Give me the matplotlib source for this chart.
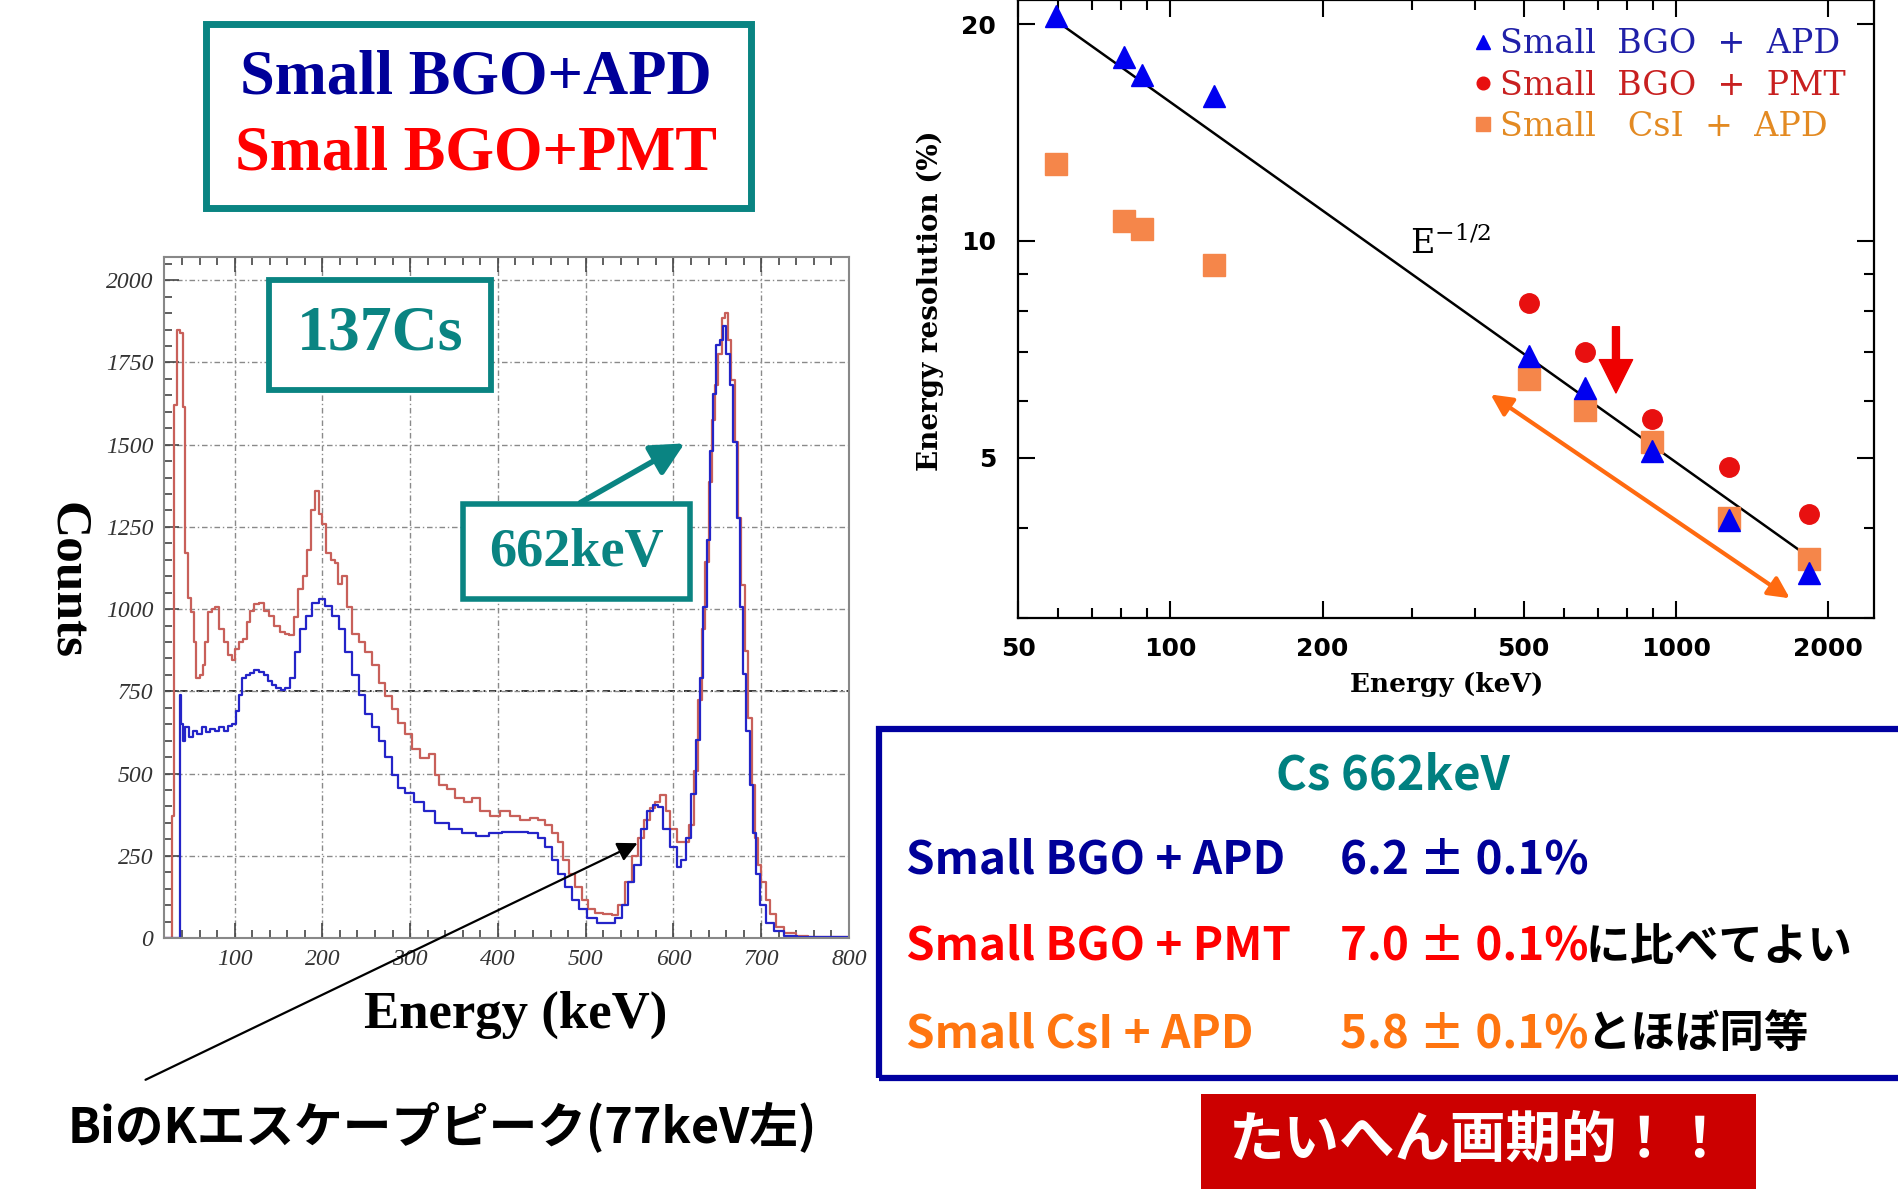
import matplotlib
matplotlib.use("Agg")
import matplotlib.pyplot as plt
from matplotlib.patches import Rectangle, FancyArrowPatch
from matplotlib.ticker import MultipleLocator, LogLocator, NullFormatter

W, H = 1899, 1192
plt.rcParams['font.family'] = ['DejaVu Sans']
plt.rcParams['mathtext.fontset'] = 'dejavuserif'

# 137Cs spectrum, Small BGO + PMT (red)
pmt_kev = [20, 28, 30, 32, 36, 40, 43, 45, 48, 52, 55, 58, 62, 65, 68, 72, 76, 80, 85, 90,
           95, 98, 102, 107, 112, 116, 120, 125, 130, 136, 142, 148, 155, 160, 165, 170, 175, 180, 185, 190,
           194, 198, 202, 207, 212, 216, 220, 225, 230, 238, 245, 253, 260, 268, 275, 283, 290, 298, 306, 317,
           327, 330, 336, 348, 355, 367, 374, 386, 397, 408, 420, 431, 442, 450, 458, 465, 471, 477, 484, 492,
           499, 507, 514, 526, 533, 541, 549, 556, 564, 570, 576, 581, 589, 593, 600, 608, 615, 621, 626, 630,
           634, 638, 642, 645, 649, 653, 657, 660, 664, 668, 672, 676, 679, 683, 687, 691, 694, 698, 702, 708,
           713, 721, 732, 747, 760, 780, 800]
pmt_counts = [0, 0, 370, 1620, 1850, 1840, 1615, 1170, 1035, 990, 900, 790, 800, 830, 900, 990, 1000, 1005, 940, 900,
              860, 845, 880, 900, 910, 960, 995, 1015, 1020, 995, 980, 950, 930, 925, 920, 975, 1060, 1100, 1180, 1300,
              1360, 1290, 1260, 1170, 1150, 1140, 1075, 1100, 1005, 925, 900, 870, 830, 775, 735, 695, 655, 620, 574, 547,
              560, 495, 466, 453, 426, 412, 426, 385, 372, 385, 372, 358, 365, 358, 345, 318, 291, 236, 196, 155,
              115, 88, 76, 74, 70, 101, 169, 250, 304, 360, 395, 412, 435, 385, 331, 291, 291, 345, 507, 723,
              939, 1142, 1385, 1574, 1682, 1777, 1885, 1900, 1818, 1696, 1507, 1277, 1074, 872, 669, 466, 304, 223, 169, 115,
              74, 34, 14, 7, 4, 3, 3]

# 137Cs spectrum, Small BGO + APD (blue)
apd_kev = [20, 37, 38, 40, 42, 45, 50, 55, 60, 65, 70, 75, 80, 85, 90, 95, 100, 103, 106, 110,
           115, 120, 125, 130, 136, 140, 145, 150, 155, 160, 166, 172, 178, 185, 192, 200, 207, 215, 222, 230,
           238, 245, 253, 260, 268, 275, 283, 290, 298, 310, 321, 336, 352, 367, 382, 397, 412, 427, 442, 450,
           458, 465, 473, 480, 488, 496, 507, 518, 530, 537, 545, 552, 559, 566, 574, 579, 585, 592, 600, 607,
           611, 617, 623, 628, 632, 636, 640, 643, 647, 651, 655, 658, 662, 666, 670, 674, 677, 681, 685, 689,
           692, 696, 702, 709, 721, 732, 750, 800]
apd_counts = [0, 0, 740, 650, 600, 640, 610, 630, 620, 640, 625, 635, 630, 640, 630, 645, 650, 690, 740, 790,
              800, 805, 815, 810, 800, 780, 770, 760, 755, 760, 790, 870, 940, 980, 1020, 1030, 1010, 980, 940, 870,
              800, 740, 680, 640, 600, 550, 495, 455, 440, 412, 385, 351, 331, 318, 311, 318, 322, 322, 318, 304,
              277, 236, 196, 155, 115, 88, 61, 47, 47, 61, 101, 169, 223, 331, 385, 405, 398, 331, 277, 216,
              236, 304, 439, 601, 790, 1007, 1209, 1480, 1655, 1804, 1818, 1860, 1777, 1682, 1507, 1277, 1007, 804, 628, 466,
              318, 196, 101, 47, 20, 7, 3, 2]

# energy resolution (%) vs energy (keV)
apd_e = [59.5, 81, 88, 122, 511, 662, 898, 1275, 1836]
apd_res = [20.5, 18.0, 17.0, 15.9, 6.93, 6.24, 5.11, 4.10, 3.46]
pmt_e = [511, 662, 898, 1275, 1836]
pmt_res = [8.2, 7.0, 5.66, 4.85, 4.17]
csi_e = [59.5, 81, 88, 122, 511, 662, 898, 1275, 1836]
csi_res = [12.8, 10.66, 10.4, 9.26, 6.43, 5.82, 5.26, 4.12, 3.62]
fit_e = [59.5, 1755]
fit_res = [20.2, 3.72]

legend_labels = ["Small  BGO  +  APD", "Small  BGO  +  PMT", "Small   CsI  +  APD"]

TEAL = '#0a8482'
NAVY = '#000099'
JP = ['Noto Sans CJK JP', 'DejaVu Sans']


def fx(px):
    return px / W


def fy(py):
    return 1 - py / H


fig = plt.figure(figsize=(W / 100, H / 100), dpi=100)
fig.patch.set_facecolor('white')

# ---------------- left: spectrum ----------------
ax1 = fig.add_axes([fx(164.4), fy(938), (849 - 164.4) / W, (938 - 256.5) / H])
ax1.step(pmt_kev, pmt_counts, where='mid', color='#c8605a', lw=1.6)
ax1.step(apd_kev, apd_counts, where='mid', color='#2424c8', lw=1.6)
ax1.set_xlim(20, 800)
ax1.set_ylim(0, 2072)
ax1.xaxis.set_major_locator(MultipleLocator(100))
ax1.xaxis.set_minor_locator(MultipleLocator(20))
ax1.yaxis.set_major_locator(MultipleLocator(250))
ax1.yaxis.set_minor_locator(MultipleLocator(50))
ax1.grid(True, which='major', ls=(0, (4, 2, 1, 2)), color='#8a8a8a', lw=1.0)
ax1.axhline(750, ls=(0, (4, 2, 1, 2)), color='#222222', lw=1.3, zorder=0.8)
ax1.tick_params(which='both', direction='in', top=True, colors='#444444',
                labelcolor='#333333', width=1.2)
ax1.tick_params(which='major', length=11, pad=8)
ax1.tick_params(which='minor', length=6)
for lab in ax1.get_xticklabels() + ax1.get_yticklabels():
    lab.set_fontfamily('Liberation Serif')
    lab.set_fontstyle('italic')
    lab.set_fontsize(17)
for s in ax1.spines.values():
    s.set_color('#888888')
    s.set_linewidth(1.5)

fig.text(fx(67), fy(581), 'Counts', rotation=-90, ha='center', va='center',
         fontfamily='Liberation Serif', fontweight='bold', fontsize=37)
fig.text(fx(516), fy(1015), 'Energy (keV)', ha='center', va='center',
         fontfamily='Liberation Serif', fontweight='bold', fontsize=38)

# boxes on the spectrum
fig.add_artist(Rectangle((fx(269), fy(390)), (491 - 269) / W, (390 - 280) / H,
                         transform=fig.transFigure, facecolor='white', edgecolor=TEAL, lw=4.2))
fig.text(fx(380), fy(335), '137Cs', ha='center', va='center', color=TEAL,
         fontfamily='Liberation Serif', fontweight='bold', fontsize=46)
fig.add_artist(Rectangle((fx(463), fy(599)), (690 - 463) / W, (599 - 504) / H,
                         transform=fig.transFigure, facecolor='white', edgecolor=TEAL, lw=4.0))
fig.text(fx(576), fy(553), '662keV', ha='center', va='center', color=TEAL,
         fontfamily='Liberation Serif', fontweight='bold', fontsize=39)
fig.add_artist(FancyArrowPatch((fx(578), fy(504)), (fx(687), fy(442)), transform=fig.transFigure,
                               arrowstyle='-|>', mutation_scale=50, lw=4, color=TEAL))

# Bi K escape annotation
fig.add_artist(FancyArrowPatch((fx(143), fy(1081)), (fx(640), fy(842)), transform=fig.transFigure,
                               arrowstyle='-|>', mutation_scale=30, lw=1.6, color='black'))
fig.text(fx(442), fy(1128), 'BiのKエスケープピーク(77keV左)', ha='center', va='center',
         family=JP, fontweight='bold', fontsize=35)

# top-left legend box
fig.add_artist(Rectangle((fx(206), fy(208)), (751 - 206) / W, (208 - 24) / H,
                         transform=fig.transFigure, facecolor='white', edgecolor=TEAL, lw=5))
fig.text(fx(476), fy(79), 'Small BGO+APD', ha='center', va='center', color=NAVY,
         fontfamily='Liberation Serif', fontweight='bold', fontsize=45)
fig.text(fx(476), fy(155), 'Small BGO+PMT', ha='center', va='center', color='#ff0000',
         fontfamily='Liberation Serif', fontweight='bold', fontsize=45)

# ---------------- right: resolution ----------------
ax2 = fig.add_axes([fx(1018.2), fy(617.5), (1874 - 1018.2) / W, 617.5 / H])
ax2.set_xscale('log')
ax2.set_yscale('log')
ax2.plot(fit_e, fit_res, color='black', lw=1.8, zorder=2)
h1, = ax2.plot(apd_e, apd_res, ls='none', marker='^', ms=16, color='#0000f0', zorder=4)
h2, = ax2.plot(pmt_e, pmt_res, ls='none', marker='o', ms=14, color='#e81010', zorder=3)
h3, = ax2.plot(csi_e, csi_res, ls='none', marker='s', ms=16, color='#f5864a', zorder=3)
ax2.set_xlim(50, 2465)
ax2.set_ylim(3.0, 21.6)
ax2.set_xticks([50, 100, 200, 500, 1000, 2000])
ax2.set_xticklabels(['50', '100', '200', '500', '1000', '2000'])
ax2.set_yticks([5, 10, 20])
ax2.set_yticklabels(['5', '10', '20'])
ax2.xaxis.set_minor_locator(LogLocator(base=10, subs=range(2, 10)))
ax2.yaxis.set_minor_locator(LogLocator(base=10, subs=range(2, 10)))
ax2.xaxis.set_minor_formatter(NullFormatter())
ax2.yaxis.set_minor_formatter(NullFormatter())
ax2.tick_params(which='both', direction='in', top=True, right=True, width=1.5)
ax2.tick_params(which='major', length=12, labelsize=18)
ax2.tick_params(axis='x', which='major', pad=14)
ax2.tick_params(axis='y', which='major', pad=16)
ax2.tick_params(which='minor', length=7)
for lab in ax2.get_xticklabels() + ax2.get_yticklabels():
    lab.set_fontweight('bold')
for s in ax2.spines.values():
    s.set_linewidth(1.6)

ax2.text(0.501, -0.108, 'Energy (keV)', transform=ax2.transAxes, ha='center', va='center',
         fontfamily='DejaVu Serif', fontweight='bold', fontsize=19)
ax2.text(-0.103, 0.5125, 'Energy resolution (%)', transform=ax2.transAxes, rotation=90,
         ha='center', va='center', fontfamily='DejaVu Serif', fontweight='bold', fontsize=20)
ax2.text(298, 9.6, r'E$^{-1/2}$', ha='left', va='baseline', fontfamily='DejaVu Serif', fontsize=24)

ax2.annotate('', xy=(761, 6.15), xytext=(761, 7.6),
             arrowprops=dict(facecolor='#ee0000', edgecolor='#ee0000', width=5, headwidth=24,
                             headlength=24, shrink=0))
ax2.annotate('', xy=(430, 6.12), xytext=(1680, 3.19),
             arrowprops=dict(arrowstyle='<|-|>', color='#ff6a10', lw=3, mutation_scale=32, shrinkA=0, shrinkB=0))

leg = ax2.legend([h1, h2, h3], legend_labels, loc='upper right', bbox_to_anchor=(1.0, 1.0),
                 frameon=False, markerscale=0.65, handlelength=0.6, handletextpad=0.2,
                 labelspacing=0.28, borderaxespad=0.45,
                 prop=dict(family='DejaVu Serif', size=24))
for t, c in zip(leg.get_texts(), ['#2020a8', '#c82020', '#e38a22']):
    t.set_color(c)

# ---------------- bottom-right summary ----------------
fig.add_artist(Rectangle((fx(879), fy(1078)), (1920 - 879) / W, (1078 - 729) / H,
                         transform=fig.transFigure, facecolor='none', edgecolor='#0000a0', lw=4.5,
                         clip_on=False))
fig.text(fx(1393), fy(775), 'Cs 662keV', ha='center', va='center', color='#008080',
         family=JP, fontweight='bold', fontsize=34)
rows = [('Small BGO + APD', '6.2 ± 0.1%', '', NAVY, 861),
        ('Small BGO + PMT', '7.0 ± 0.1%', 'に比べてよい', '#ff0000', 947),
        ('Small CsI + APD', '5.8 ± 0.1%', 'とほぼ同等', '#ff7510', 1035)]
for label, val, jp, col, ypx in rows:
    fig.text(fx(906), fy(ypx), label, ha='left', va='center', color=col,
             family=JP, fontweight='bold', fontsize=33)
    fig.text(fx(1340), fy(ypx), val, ha='left', va='center', color=col,
             family=JP, fontweight='bold', fontsize=33)
    if jp:
        fig.text(fx(1586), fy(ypx), jp, ha='left', va='center', color='black',
                 family=JP, fontweight='bold', fontsize=32)

fig.add_artist(Rectangle((fx(1201), fy(1189)), (1756 - 1201) / W, (1189 - 1094) / H,
                         transform=fig.transFigure, facecolor='#cc0000', edgecolor='none'))
fig.text(fx(1478), fy(1141), 'たいへん画期的！！', ha='center', va='center', color='white',
         family=JP, fontweight='bold', fontsize=40)

fig.savefig('out.png', dpi=100, facecolor='white')
